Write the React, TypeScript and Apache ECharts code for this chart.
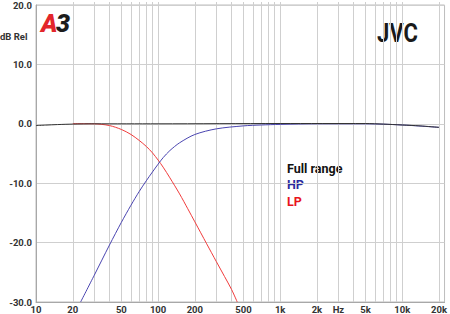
import React, { useEffect, useRef } from "react";
import * as echarts from "echarts";

const fullFreq = [10, 12, 15, 20, 30, 100, 1000, 5000, 7000, 10000, 14000, 20000];
const fullDb = [-0.3, -0.22, -0.13, -0.05, 0, 0, 0.05, 0.05, -0.05, -0.2, -0.35, -0.6];

const hpFreq = [23.2, 30, 40, 50, 60, 70, 80, 90, 100, 110, 125, 150, 200, 300, 500, 700, 1000, 2000, 5000, 10000, 20000];
const hpDb = [-30, -25.5, -20.4, -16.6, -13.7, -11.4, -9.6, -8.1, -6.8, -5.7, -4.5, -3.2, -1.8, -0.85, -0.35, -0.2, -0.1, 0, 0, -0.2, -0.6];

const lpFreq = [20, 30, 40, 50, 60, 70, 80, 90, 100, 110, 125, 150, 175, 200, 250, 300, 350, 400, 445];
const lpDb = [0.02, 0, -0.3, -0.95, -1.8, -2.8, -3.8, -4.9, -6.1, -7.3, -9.1, -11.8, -14.3, -16.5, -20.2, -23.2, -25.7, -27.9, -30];

const gridFreqs = [20, 30, 40, 50, 60, 70, 80, 90, 100, 200, 300, 400, 500, 600, 700, 800, 900, 1000, 2000, 3000, 4000, 5000, 6000, 7000, 8000, 9000, 10000, 20000];
const labelFreqs = [10, 20, 50, 100, 200, 500, 1000, 2000, 3000, 5000, 10000, 20000];
const labelTexts = ["10", "20", "50", "100", "200", "500", "1k", "2k", "Hz", "5k", "10k", "20k"];

const yTicks = { min: -30, max: 20, interval: 10 };

const zip = (f: number[], d: number[]) => f.map((v, i) => [v, d[i]]);

export default function App() {
  const ref = useRef<HTMLDivElement>(null);
  useEffect(() => {
    if (!ref.current) return;
    const chart = echarts.init(ref.current, null, { renderer: "svg" });
    const font = "Roboto, 'DejaVu Sans', sans-serif";
    chart.setOption({
      animation: false,
      backgroundColor: "#ffffff",
      grid: { left: 36, right: 4, top: 4, bottom: 10, show: true, borderColor: "#bdbdbd", borderWidth: 1, containLabel: false },
      xAxis: {
        type: "log",
        logBase: 10,
        min: 10,
        max: 22200,
        axisLine: { show: true, onZero: false, lineStyle: { color: "#a8a8a8", width: 1 } },
        splitLine: { show: false },
        axisTick: {
          show: true,
          inside: true,
          length: 300,
          customValues: gridFreqs,
          lineStyle: { color: "#cfcfcf", width: 1 },
        },
        axisLabel: {
          show: true,
          customValues: labelFreqs,
          margin: 2,
          fontFamily: font,
          fontWeight: "bold",
          fontSize: 9.5,
          color: "#333",
          formatter: (v: number) => {
            const idx = labelFreqs.findIndex((f) => Math.abs(f - v) / f < 0.01);
            return idx >= 0 ? labelTexts[idx] : "";
          },
        },
      },
      yAxis: {
        type: "value",
        min: yTicks.min,
        max: yTicks.max,
        interval: yTicks.interval,
        axisLine: { show: true, onZero: false, lineStyle: { color: "#a8a8a8", width: 1 } },
        axisTick: { show: false },
        splitLine: { show: true, lineStyle: { color: "#cfcfcf", width: 1 } },
        axisLabel: {
          margin: 4,
          fontFamily: font,
          fontWeight: "bold",
          fontSize: 9.5,
          color: "#333",
          formatter: (v: number) => v.toFixed(1),
        },
      },
      series: [
        { name: "LP", type: "line", data: zip(lpFreq, lpDb), showSymbol: false, smooth: 0.3, lineStyle: { color: "#f03c3c", width: 1 }, z: 3 },
        { name: "HP", type: "line", data: zip(hpFreq, hpDb), showSymbol: false, smooth: 0.3, lineStyle: { color: "#4a45b0", width: 1 }, z: 4 },
        { name: "Full range", type: "line", data: zip(fullFreq, fullDb), showSymbol: false, smooth: 0.3, lineStyle: { color: "#333333", width: 1 }, z: 5 },
      ],
      graphic: [
        { type: "text", x: 0, y: 36, style: { text: "dB Rel", fontFamily: font, fontWeight: "bold", fontSize: 9.5, fill: "#333", textVerticalAlign: "middle" } },
        { type: "text", x: 41, y: 23, style: { text: "A", fontFamily: font, fontWeight: 900, fontStyle: "italic", fontSize: 25, fill: "#e3262b", textVerticalAlign: "middle", shadowColor: "rgba(0,0,0,0.55)", shadowOffsetX: 1, shadowOffsetY: 1, shadowBlur: 1 } },
        { type: "text", x: 56, y: 23, style: { text: "3", fontFamily: font, fontWeight: 900, fontStyle: "italic", fontSize: 25, fill: "#1c1c1c", textVerticalAlign: "middle" } },
        { type: "text", x: 377, y: 34, scaleX: 0.88, style: { text: "JVC", fontFamily: font, fontWeight: "bold", fontSize: 25, fill: "#1a1a1a", textVerticalAlign: "middle" } },
        { type: "text", x: 287, y: 168, style: { text: "Full range", fontFamily: font, fontWeight: "bold", fontSize: 12.5, fill: "#111", textVerticalAlign: "middle" } },
        { type: "text", x: 287, y: 184, style: { text: "HP", fontFamily: font, fontWeight: "bold", fontSize: 12.5, fill: "#2b2b9e", textVerticalAlign: "middle" } },
        { type: "text", x: 287, y: 201, style: { text: "LP", fontFamily: font, fontWeight: "bold", fontSize: 12.5, fill: "#e8141c", textVerticalAlign: "middle" } },
      ],
    });
    return () => chart.dispose();
  }, []);
  return <div ref={ref} style={{ width: 450, height: 314, position: "fixed", left: 0, top: 0 }} />;
}
